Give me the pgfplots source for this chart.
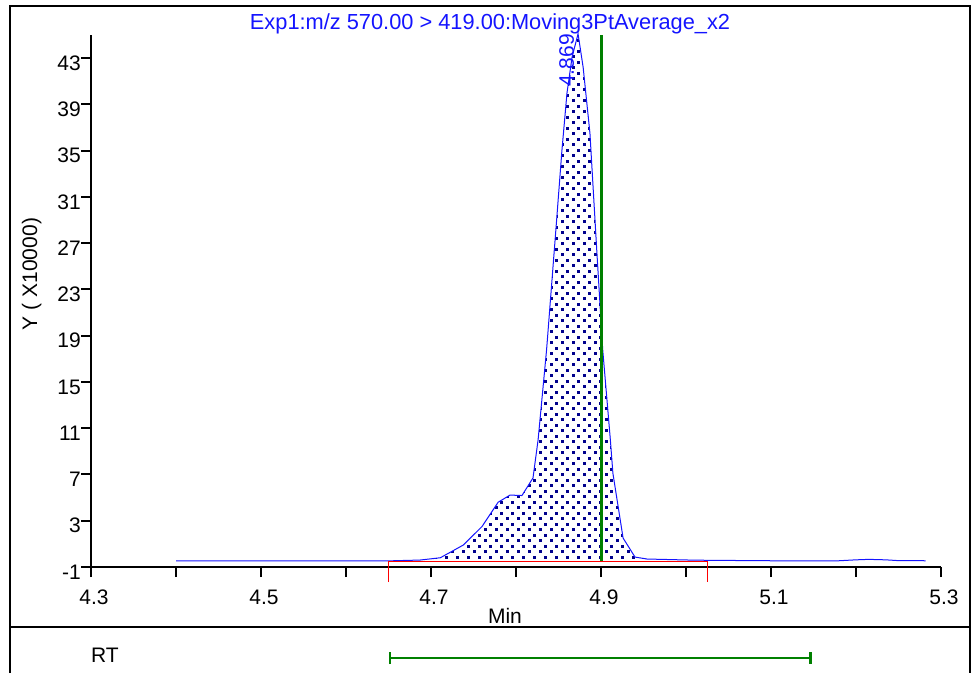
\documentclass[border=0pt]{standalone}
\usepackage{fontspec}
\setmainfont{Liberation Sans}
\usepackage{pgfplots}
\pgfplotsset{compat=1.18}
\usetikzlibrary{patterns,arrows.meta}
\definecolor{cblue}{RGB}{20,20,255}
\definecolor{cgreen}{RGB}{0,128,0}
\definecolor{dotblue}{RGB}{0,0,140}
\pgfdeclarepatternformonly{rtdots}{\pgfqpoint{0pt}{0pt}}{\pgfqpoint{11pt}{11pt}}{\pgfqpoint{11pt}{11pt}}{%
 \pgfpathrectangle{\pgfqpoint{0pt}{0pt}}{\pgfqpoint{3pt}{3pt}}%
 \pgfpathrectangle{\pgfqpoint{5.5pt}{5.5pt}}{\pgfqpoint{3pt}{3pt}}%
 \pgfusepath{fill}}
\newcommand{\fs}{\fontsize{21}{25}\selectfont}
\begin{document}
\begin{tikzpicture}[x=1pt,y=1pt,font=\fs]
\useasboundingbox (0,0) rectangle (972,673);
% frame
\draw[line width=2pt] (10,0) -- (10,667) -- (970,667) -- (970,0);
\draw[line width=2pt] (10,46) -- (970,46);
% texts
\node[anchor=base, text=cblue, inner sep=0pt, font=\fontsize{21.8}{26}\selectfont] at (490,643) {Exp1:m/z 570.00 > 419.00:Moving3PtAverage\_x2};
\node[anchor=base, rotate=90, inner sep=0pt] at (37,399) {Y ( X10000)};
\node[anchor=base, inner sep=0pt] at (505,50) {Min};
\node[anchor=base, inner sep=0pt] at (105,11) {RT};
\begin{axis}[
  at={(91pt,106pt)}, anchor=south west,
  scale only axis, width=850pt, height=532pt,
  xmin=4.3, xmax=5.3, ymin=-1, ymax=45,
  axis lines*=left,
  axis line style={line width=2pt},
  every tick/.style={black, line width=2pt},
  tick align=outside,
  major tick length=10pt,
  xtick={4.3,4.4,4.5,4.6,4.7,4.8,4.9,5.0,5.1,5.2,5.3},
  xticklabels={4.3,,4.5,,4.7,,4.9,,5.1,,5.3},
  ytick={-1,3,7,11,15,19,23,27,31,35,39,43},
  yticklabels={-1,3,7,11,15,19,23,27,31,35,39,43},
  tick label style={font=\fs, inner sep=0pt},
  xticklabel style={anchor=north, xshift=3pt, yshift=-13pt},
  yticklabel style={anchor=east, yshift=-5pt},
  clip=false,
]
% filled peak area
\addplot[draw=none, pattern=rtdots, pattern color=dotblue] coordinates {
 (4.650,-0.50) (4.650,-0.47) (4.687,-0.40) (4.711,-0.20) (4.738,0.90) (4.760,2.50)
 (4.779,4.60) (4.793,5.22) (4.807,5.18) (4.820,6.70) (4.826,10.0) (4.836,17.8)
 (4.848,29.2) (4.854,35.0) (4.860,40.0) (4.866,43.1) (4.873,45.1) (4.879,42.2)
 (4.887,36.5) (4.895,26.4) (4.902,17.8) (4.911,10.0) (4.914,7.10) (4.926,1.50)
 (4.940,-0.14) (4.954,-0.31) (5.005,-0.40) (5.025,-0.42) (5.025,-0.50)
} -- cycle;
% chromatogram
\addplot[cblue, line width=1pt] coordinates {
 (4.400,-0.48) (4.500,-0.48) (4.600,-0.48) (4.650,-0.47) (4.687,-0.40) (4.711,-0.20)
 (4.738,0.90) (4.760,2.50) (4.779,4.60) (4.793,5.22) (4.807,5.18) (4.820,6.70)
 (4.826,10.0) (4.836,17.8) (4.848,29.2) (4.854,35.0) (4.860,40.0) (4.866,43.1)
 (4.873,45.1) (4.879,42.2) (4.887,36.5) (4.895,26.4) (4.902,17.8) (4.911,10.0)
 (4.914,7.10) (4.926,1.50) (4.940,-0.14) (4.954,-0.31) (5.005,-0.40) (5.025,-0.42)
 (5.100,-0.46) (5.180,-0.46) (5.200,-0.38) (5.215,-0.34) (5.235,-0.38) (5.250,-0.45)
 (5.282,-0.46)
};
% integration baseline
\addplot[red, line width=1pt] coordinates {(4.650,-2.3) (4.650,-0.50) (5.025,-0.50) (5.025,-2.3)};
% expected RT marker
\addplot[cgreen, line width=3pt] coordinates {(4.9,-0.5) (4.9,45)};
\node[anchor=base west, rotate=90, text=cblue, inner sep=0pt] at (axis cs:4.868,40.5) {4.869};
\end{axis}
\begin{axis}[
  at={(91pt,0pt)}, anchor=south west,
  scale only axis, width=850pt, height=46pt,
  xmin=4.3, xmax=5.3, ymin=0, ymax=46,
  hide axis, clip=false,
]
\addplot[cgreen, line width=2.5pt, {Bar[width=12pt]}-{Bar[width=12pt]}] coordinates {(4.65,15) (5.148,15)};
\end{axis}
\end{tikzpicture}
\end{document}
